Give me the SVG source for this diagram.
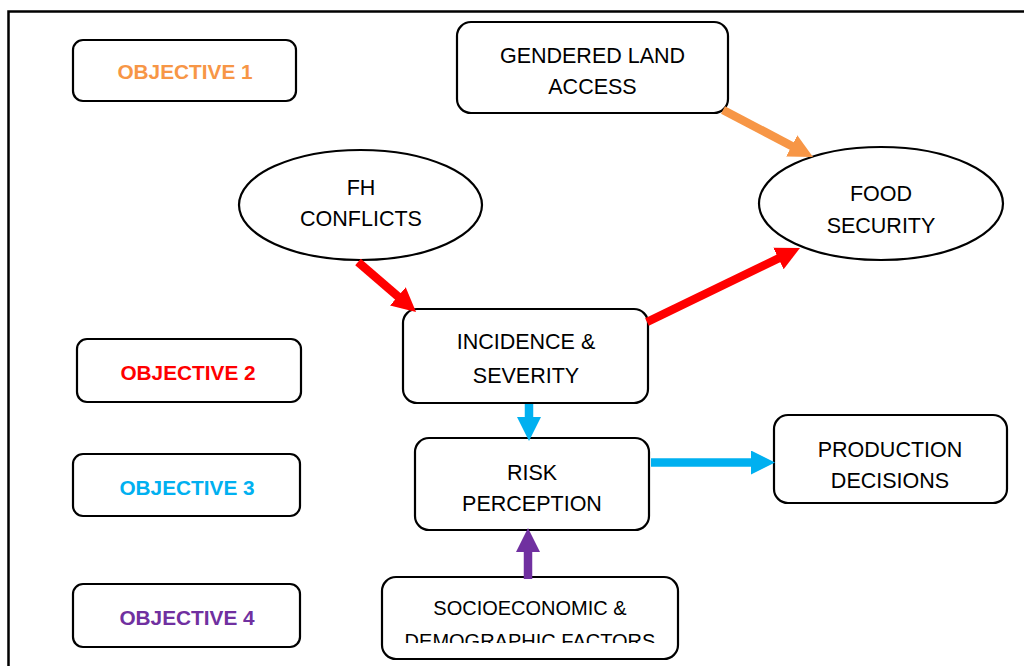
<svg xmlns="http://www.w3.org/2000/svg" width="1024" height="666" viewBox="0 0 1024 666">
<style>
.box{fill:#fff;stroke:#000;stroke-width:2.2}
.t{font-family:"Liberation Sans",Arial,sans-serif;font-size:21.5px;fill:#000;text-anchor:middle}
.s{font-size:20px}
.ob{font-family:"Liberation Sans",Arial,sans-serif;font-size:20.8px;font-weight:bold;text-anchor:middle}
.ar{stroke-width:8.5;fill:none}
</style>
<defs>
<marker id="hO" markerUnits="userSpaceOnUse" markerWidth="26" markerHeight="26" refX="1" refY="12" orient="auto"><path d="M0,0 L24,12 L0,24 z" fill="#F79646"/></marker>
<marker id="hR" markerUnits="userSpaceOnUse" markerWidth="26" markerHeight="26" refX="1" refY="12" orient="auto"><path d="M0,0 L24,12 L0,24 z" fill="#FF0000"/></marker>
<marker id="hB" markerUnits="userSpaceOnUse" markerWidth="26" markerHeight="26" refX="1" refY="12" orient="auto"><path d="M0,0 L24,12 L0,24 z" fill="#00B0F0"/></marker>
<marker id="hP" markerUnits="userSpaceOnUse" markerWidth="26" markerHeight="26" refX="1" refY="12" orient="auto"><path d="M0,0 L24,12 L0,24 z" fill="#7030A0"/></marker>
<clipPath id="cl"><rect x="380" y="575" width="300" height="68"/></clipPath>
</defs>
<rect x="0" y="0" width="1024" height="666" fill="#fff"/>
<rect x="8.5" y="11.5" width="1040" height="700" fill="none" stroke="#000" stroke-width="2.5"/>

<g id="obj1"><rect class="box" x="73" y="40" width="223" height="61" rx="10"/><text class="ob" x="185" y="78.5" fill="#F79646">OBJECTIVE 1</text></g>
<g id="obj2"><rect class="box" x="77" y="339" width="224" height="63" rx="10"/><text class="ob" x="188" y="379.5" fill="#FF0000">OBJECTIVE 2</text></g>
<g id="obj3"><rect class="box" x="73" y="454" width="227" height="62" rx="10"/><text class="ob" x="187" y="494.5" fill="#00B0F0">OBJECTIVE 3</text></g>
<g id="obj4"><rect class="box" x="73" y="584" width="227" height="63" rx="10"/><text class="ob" x="187" y="624.5" fill="#7030A0">OBJECTIVE 4</text></g>

<g id="land"><rect class="box" x="457" y="22" width="271" height="91" rx="14"/><text class="t" x="592.5" y="62.5">GENDERED LAND</text><text class="t" x="592.5" y="93.5">ACCESS</text></g>
<g id="fh"><ellipse class="box" cx="360.5" cy="205" rx="121.5" ry="55"/><text class="t" x="361" y="194.5">FH</text><text class="t" x="361" y="225.5">CONFLICTS</text></g>
<g id="food"><ellipse class="box" cx="881" cy="203.5" rx="122" ry="56.5"/><text class="t" x="881" y="200.5">FOOD</text><text class="t" x="881" y="232.5">SECURITY</text></g>
<g id="incidence"><rect class="box" x="403" y="309" width="245" height="94" rx="14"/><text class="t" x="526" y="348.5">INCIDENCE &amp;</text><text class="t" x="526" y="382.5">SEVERITY</text></g>
<g id="risk"><rect class="box" x="415" y="438" width="234" height="92" rx="14"/><text class="t" x="532" y="479.5">RISK</text><text class="t" x="532" y="510.5">PERCEPTION</text></g>
<g id="production"><rect class="box" x="774" y="415" width="233" height="88" rx="14"/><text class="t" x="890" y="456.5">PRODUCTION</text><text class="t" x="890" y="487.5">DECISIONS</text></g>
<g id="socio"><rect class="box" x="382" y="577" width="296" height="82" rx="14"/><text class="t s" x="530" y="615">SOCIOECONOMIC &amp;</text><text class="t s" x="530" y="648" clip-path="url(#cl)">DEMOGRAPHIC FACTORS</text></g>

<g id="connectors">
<line class="ar" x1="723" y1="110" x2="792.6" y2="146.4" stroke="#F79646" marker-end="url(#hO)"/>
<line class="ar" x1="358" y1="262" x2="398.6" y2="297" stroke="#FF0000" marker-end="url(#hR)"/>
<line class="ar" x1="647" y1="322" x2="779.3" y2="258" stroke="#FF0000" marker-end="url(#hR)"/>
<line class="ar" x1="529" y1="404" x2="529" y2="418" stroke="#00B0F0" marker-end="url(#hB)"/>
<line class="ar" x1="651" y1="462.5" x2="752" y2="462.5" stroke="#00B0F0" marker-end="url(#hB)"/>
<line class="ar" x1="528" y1="579" x2="528" y2="551" stroke="#7030A0" marker-end="url(#hP)"/>
</g>
</svg>
